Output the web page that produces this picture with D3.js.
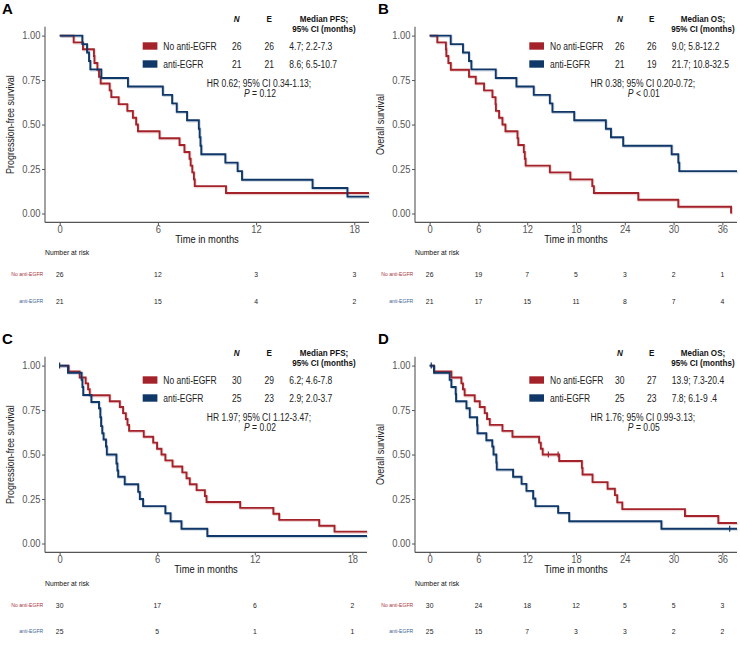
<!DOCTYPE html>
<html><head><meta charset="utf-8">
<script src="https://cdn.jsdelivr.net/npm/d3@7/dist/d3.min.js"></script>
<style>body{margin:0;background:#fff;}svg{display:block;font-family:"Liberation Sans",Arial,sans-serif;}</style>
</head><body>
<script>
// ---------- DATA ----------
const groups = ["No anti-EGFR", "anti-EGFR"];
// Panel A: PFS, cohort 1  [time (months), survival]
const pfsA_red = [[0,1],[0.85,0.962],[1.42,0.923],[2.09,0.885],[2.12,0.846],[2.3,0.808],[2.4,0.769],[2.5,0.731],[3.05,0.692],[3.15,0.654],[3.6,0.615],[4.13,0.577],[4.47,0.538],[4.67,0.5],[4.78,0.462],[6.1,0.423],[7.32,0.385],[7.62,0.346],[7.93,0.308],[8.0,0.269],[8.1,0.231],[8.2,0.192],[8.25,0.154],[10.16,0.115],[18.9,0.115]];
const pfsA_blue = [[0,1],[1.38,0.952],[1.67,0.905],[1.79,0.857],[1.87,0.81],[2.54,0.762],[4.17,0.714],[6.3,0.667],[6.87,0.619],[7.15,0.571],[7.78,0.524],[8.5,0.476],[8.55,0.429],[8.6,0.381],[8.65,0.333],[10.12,0.286],[10.87,0.238],[11.14,0.19],[15.45,0.143],[17.58,0.095],[18.9,0.095]];
// Panel B: OS, cohort 1
const osB_red = [[0,1],[0.94,0.962],[2.0,0.923],[2.05,0.885],[2.3,0.846],[2.6,0.808],[4.84,0.769],[5.67,0.731],[6.69,0.692],[7.72,0.654],[8.1,0.615],[8.15,0.577],[8.54,0.538],[8.95,0.5],[9.32,0.462],[10.8,0.423],[10.9,0.385],[11.58,0.346],[11.7,0.308],[11.8,0.269],[14.78,0.231],[17.3,0.192],[20.0,0.154],[20.2,0.115],[25.66,0.077],[30.58,0.038],[37.07,0.0]];
const osB_blue = [[0,1],[2.59,0.952],[4.1,0.905],[4.84,0.857],[5.13,0.81],[8.13,0.762],[10.67,0.714],[12.8,0.667],[14.78,0.619],[15.1,0.571],[17.78,0.524],[21.67,0.476],[22.3,0.429],[23.8,0.381],[29.76,0.333],[30.58,0.286],[30.7,0.238],[37.8,0.238]];
// Panel C: PFS, cohort 2
const pfsC_red = [[0,1],[0.55,0.967],[1.23,0.933],[1.6,0.9],[1.75,0.867],[1.85,0.833],[3.08,0.8],[3.7,0.767],[3.9,0.733],[4.07,0.7],[4.17,0.667],[4.27,0.633],[5.17,0.6],[5.75,0.567],[5.99,0.533],[6.26,0.5],[6.5,0.467],[6.94,0.433],[7.54,0.4],[7.8,0.367],[8.0,0.333],[8.42,0.3],[8.93,0.267],[9.03,0.233],[11.1,0.2],[13.14,0.167],[13.5,0.133],[15.96,0.1],[16.9,0.067],[18.9,0.067]];
const pfsC_blue = [[0,1],[0.51,0.96],[1.35,0.92],[1.4,0.88],[1.45,0.835],[1.95,0.795],[2.42,0.76],[2.5,0.71],[2.55,0.66],[2.62,0.62],[2.7,0.585],[2.85,0.545],[2.9,0.5],[3.49,0.45],[3.55,0.41],[3.6,0.375],[4.0,0.333],[4.83,0.29],[4.93,0.25],[5.13,0.21],[6.5,0.17],[6.82,0.125],[7.49,0.083],[9.08,0.042],[18.9,0.042]];
// Panel D: OS, cohort 2
const osD_red = [[0,1],[0.53,0.967],[2.67,0.933],[3.9,0.9],[4.1,0.867],[4.3,0.833],[5.54,0.8],[6.16,0.767],[6.77,0.733],[7.06,0.7],[7.39,0.667],[8.95,0.633],[10.18,0.6],[13.46,0.567],[13.67,0.533],[13.9,0.5],[15.93,0.464],[18.72,0.425],[18.8,0.388],[20.03,0.345],[21.88,0.308],[22.78,0.272],[23.07,0.231],[23.69,0.193],[31.4,0.155],[35.5,0.115],[37.8,0.115]];
const osD_blue = [[0,1],[0.53,0.96],[2.46,0.92],[2.67,0.88],[3.2,0.84],[3.25,0.8],[4.52,0.76],[4.93,0.71],[5.83,0.665],[5.88,0.62],[6.97,0.58],[7.7,0.545],[7.85,0.5],[8.2,0.455],[8.25,0.415],[10.26,0.375],[11.3,0.335],[11.9,0.296],[12.73,0.253],[13.0,0.21],[15.8,0.172],[17.16,0.125],[28.5,0.083],[37.8,0.083]];
// censor marks [time, survival]
const censC_blue = [[0,1]];
const censD_red = [[14.6,0.5],[15.8,0.5]];
const censD_blue = [[0.2,1],[36.9,0.083]];
// tick labels
const ticks18 = [0, 6, 12, 18];
const ticks36 = [0, 6, 12, 18, 24, 30, 36];
const yTicks = [0, 0.25, 0.5, 0.75, 1];
// numbers at risk
const riskA_red = [26, 12, 3, 3], riskA_blue = [21, 15, 4, 2];
const riskB_red = [26, 19, 7, 5, 3, 2, 1], riskB_blue = [21, 17, 15, 11, 8, 7, 4];
const riskC_red = [30, 17, 6, 2], riskC_blue = [25, 5, 1, 1];
const riskD_red = [30, 24, 18, 12, 5, 5, 3], riskD_blue = [25, 15, 7, 3, 3, 2, 2];
// legend tables
const legA = [["26","26","4.7; 2.2-7.3"],["21","21","8.6; 6.5-10.7"]];
const legB = [["26","26","9.0; 5.8-12.2"],["21","19","21.7; 10.8-32.5"]];
const legC = [["30","29","6.2; 4.6-7.8"],["25","23","2.9; 2.0-3.7"]];
const legD = [["30","27","13.9; 7.3-20.4"],["25","23","7.8; 6.1-9 .4"]];
const hrText = ["HR 0.62; 95% CI 0.34-1.13;", "HR 0.38; 95% CI 0.20-0.72;", "HR 1.97; 95% CI 1.12-3.47;", "HR 1.76; 95% CI 0.99-3.13;"];
const pText = [" = 0.12", " < 0.01", " = 0.02", " = 0.05"];

// ---------- DRAW ----------
const RED = "#A4232A", BLUE = "#0F3768";
const svg = d3.select("body").append("svg").attr("width", 740).attr("height", 651);

function panel(o) {
  const g = svg.append("g").attr("transform", `translate(${o.ox},${o.oy})`);
  const x = d3.scaleLinear().domain([-o.xmax*0.05, o.xmax*1.05]).range([45, o.xr]);
  const y = d3.scaleLinear().domain([-0.05, 1.05]).range([222.4, 26.7]);
  // letter
  g.append("text").attr("x", o.lx).attr("y", 14).attr("font-size", 15).attr("font-weight", "bold").text(o.letter);
  // axes
  const ax = g.append("g").attr("transform", "translate(0,222.4)")
    .call(d3.axisBottom(x).tickValues(o.ticks).tickSize(3).tickPadding(0).tickFormat(d3.format("d")));
  const ay = g.append("g").attr("transform", "translate(45,0)")
    .call(d3.axisLeft(y).tickValues(yTicks).tickSize(3).tickPadding(1.5).tickFormat(d3.format(".2f")));
  [ax, ay].forEach(a => {
    a.select(".domain").attr("stroke", "#555").attr("stroke-width", 1.1);
    a.selectAll(".tick line").attr("stroke", "#555");
    a.selectAll(".tick text").attr("class", "t").attr("fill", "#555").attr("font-size", 10.2).attr("font-family", "Liberation Sans, Arial, sans-serif");
  });
  ax.select(".domain").attr("d", `M45,0H${o.xr}`);
  ay.select(".domain").attr("d", `M0,${y(1.05)}V222.4`);
  g.append("text").attr("class", "c").attr("x", (45 + o.xr)/2).attr("y", 243).attr("text-anchor", "middle").attr("font-size", 11).attr("fill", "#111").text("Time in months");
  g.append("text").attr("class", "c").attr("transform", `translate(13.5,${y(0.5)}) rotate(-90)`).attr("text-anchor", "middle").attr("font-size", 10.5).attr("fill", "#222").text(o.ytitle);
  // curves
  const line = d3.line().x(d => x(d[0])).y(d => y(d[1])).curve(d3.curveStepAfter);
  [[o.red, RED], [o.blue, BLUE]].forEach(([data, col]) => {
    g.append("path").datum(data).attr("d", line).attr("fill", "none").attr("stroke", col).attr("stroke-opacity", 0.2).attr("stroke-width", 2.2).attr("transform", "translate(0.8,1)");
    g.append("path").datum(data).attr("d", line).attr("fill", "none").attr("stroke", col).attr("stroke-width", 1.9);
  });
  [[o.cRed || [], RED], [o.cBlue || [], BLUE]].forEach(([data, col]) => {
    g.selectAll(null).data(data).enter().append("line")
      .attr("x1", d => x(d[0])).attr("x2", d => x(d[0]))
      .attr("y1", d => y(d[1]) - 3).attr("y2", d => y(d[1]) + 3)
      .attr("stroke", col).attr("stroke-width", 1.2);
  });
  // legend table
  const L = o.leg, dy = o.legDy;
  const hdr = g.append("g").attr("font-size", 9.5).attr("font-weight", "bold").attr("fill", "#111");
  hdr.append("text").attr("class", "c").attr("x", L.n).attr("y", 22 + dy).attr("text-anchor", "middle").attr("font-style", "italic").text("N");
  hdr.append("text").attr("class", "c").attr("x", L.e).attr("y", 22 + dy).attr("text-anchor", "middle").text("E");
  hdr.append("text").attr("class", "c").attr("x", L.h).attr("y", 22 + dy).attr("text-anchor", "middle").text(o.medLabel);
  hdr.append("text").attr("class", "c").attr("x", L.h).attr("y", 31.5 + dy).attr("text-anchor", "middle").text("95% CI (months)");
  [[RED, 46], [BLUE, 64]].forEach(([col, cy], i) => {
    g.append("rect").attr("x", L.rect).attr("y", cy - 3.7 + dy).attr("width", 14.7).attr("height", 7.4).attr("fill", col);
    const t = g.append("g").attr("font-size", 10).attr("fill", "#222");
    t.append("text").attr("class", "c").attr("x", L.txt).attr("y", cy + 3.6 + dy).text(groups[i]);
    t.append("text").attr("class", "c").attr("x", L.n).attr("y", cy + 3.6 + dy).attr("text-anchor", "middle").text(o.legRows[i][0]);
    t.append("text").attr("class", "c").attr("x", L.e).attr("y", cy + 3.6 + dy).attr("text-anchor", "middle").text(o.legRows[i][1]);
    t.append("text").attr("class", "c").attr("x", L.med).attr("y", cy + 3.6 + dy).text(o.legRows[i][2]);
  });
  const hr = g.append("g").attr("font-size", 10).attr("fill", "#222").attr("text-anchor", "middle");
  hr.append("text").attr("class", "c").attr("x", L.hr).attr("y", 87 + dy).text(hrText[o.idx]);
  const pt = hr.append("text").attr("class", "c").attr("x", L.hr + 1).attr("y", 96.6 + dy);
  pt.append("tspan").attr("font-style", "italic").text("P");
  pt.append("tspan").text(pText[o.idx]);
  // risk table
  const rt = g.append("g").attr("transform", `translate(0,${o.rtDy})`);
  rt.append("text").attr("class", "c").attr("x", 45).attr("y", 255).attr("font-size", 8).attr("fill", "#111").text("Number at risk");
  [[o.rRed, RED, 277.2], [o.rBlue, BLUE, 303.5]].forEach(([vals, col, by], i) => {
    rt.append("text").attr("class", "c").attr("x", 43.3).attr("y", by - 0.8).attr("text-anchor", "end").attr("font-size", 6).attr("fill", i ? "#3D5F92" : "#A8343A").text(groups[i]);
    rt.selectAll(null).data(vals).enter().append("text").attr("class", "c")
      .attr("x", (d, j) => x(o.ticks[j])).attr("y", by).attr("text-anchor", "middle").attr("font-size", 8).attr("fill", "#222").text(d => d);
  });
}

const legL = {n: 236.7, e: 269.3, h: 324, rect: 142.7, txt: 163.3, med: 289.3, hr: 259};
const legR = {n: 249.8, e: 281.7, h: 333, rect: 159.3, txt: 180, med: 301.7, hr: 272.8};
panel({idx:0, letter:"A", lx:2, ox:0, oy:0, xmax:18, xr:369, ticks:ticks18, ytitle:"Progression-free survival", medLabel:"Median PFS;", red:pfsA_red, blue:pfsA_blue, leg:legL, legRows:legA, legDy:0, rRed:riskA_red, rBlue:riskA_blue, rtDy:0});
panel({idx:1, letter:"B", lx:8, ox:370, oy:0, xmax:36, xr:367, ticks:ticks36, ytitle:"Overall survival", medLabel:"Median OS;", red:osB_red, blue:osB_blue, leg:legR, legRows:legB, legDy:0, rRed:riskB_red, rBlue:riskB_blue, rtDy:0});
panel({idx:2, letter:"C", lx:2, ox:0, oy:330, xmax:18, xr:367, ticks:ticks18, ytitle:"Progression-free survival", medLabel:"Median PFS;", red:pfsC_red, blue:pfsC_blue, cBlue:censC_blue, leg:legL, legRows:legC, legDy:4, rRed:riskC_red, rBlue:riskC_blue, rtDy:0.5});
panel({idx:3, letter:"D", lx:8, ox:370, oy:330, xmax:36, xr:367, ticks:ticks36, ytitle:"Overall survival", medLabel:"Median OS;", red:osD_red, blue:osD_blue, cRed:censD_red, cBlue:censD_blue, leg:legR, legRows:legD, legDy:4, rRed:riskD_red, rBlue:riskD_blue, rtDy:0.5});

// condense text horizontally to match the reference's narrow lettering
function condense(sel, k) {
  svg.selectAll(sel).each(function() {
    const w = this.getComputedTextLength();
    this.setAttribute("textLength", (w * k).toFixed(2));
    this.setAttribute("lengthAdjust", "spacingAndGlyphs");
  });
}
condense("text.c", 0.85);
condense("text.t", 0.92);
</script>
</body></html>
